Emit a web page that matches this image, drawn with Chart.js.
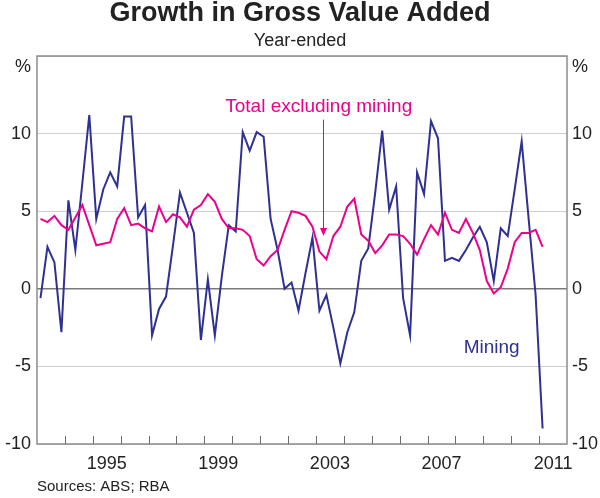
<!DOCTYPE html>
<html>
<head>
<meta charset="utf-8">
<script src="https://cdn.jsdelivr.net/npm/chart.js@4.4.1/dist/chart.umd.min.js"></script>
<style>
  html, body { margin: 0; padding: 0; background: #fff; }
  #wrap { width: 600px; height: 498px; }
</style>
</head>
<body>
<div id="wrap"><canvas id="gvaChart"></canvas></div>
<script>
// Year-ended growth, quarterly, March quarter 1993 to March quarter 2011
const START_YEAR = 1993;

const mining = [
  -0.6, 2.7, 1.7, -2.8, 5.7, 2.5, 6.8, 11.2, 4.5, 6.4, 7.5, 6.6,
  11.1, 11.1, 4.6, 5.4, -3.0, -1.3, -0.5, 2.8, 6.2, 4.9, 3.6, -3.3,
  0.6, -3.0, 0.8, 4.1, 3.7, 10.1, 8.9, 10.1, 9.8, 4.5, 2.5, 0.0,
  0.4, -1.4, 1.0, 3.3, -1.4, -0.4, -2.5, -4.8, -2.8, -1.5, 1.8, 2.6,
  6.2, 10.2, 5.1, 6.6, -0.6, -3.0, 7.5, 6.1, 10.8, 9.7, 1.8, 2.0,
  1.8, 2.5, 3.3, 4.0, 3.0, 0.5, 3.9, 3.4, 6.4, 9.5, 4.5, -0.4,
  -9.0
];

const totalExMining = [
  4.5, 4.3, 4.7, 4.1, 3.8, 4.6, 5.4, 4.1, 2.8, 2.9, 3.0, 4.5,
  5.2, 4.1, 4.2, 3.9, 3.7, 5.3, 4.3, 4.8, 4.6, 4.0, 5.1, 5.4,
  6.1, 5.6, 4.5, 3.9, 3.9, 3.8, 3.4, 1.9, 1.5, 2.1, 2.5, 3.8,
  5.0, 4.9, 4.7, 4.0, 2.4, 1.9, 3.4, 4.0, 5.3, 5.8, 3.5, 3.1,
  2.3, 2.8, 3.5, 3.5, 3.4, 2.9, 2.2, 3.2, 4.1, 3.5, 4.9, 3.8,
  3.6, 4.5, 3.6, 2.5, 0.5, -0.3, 0.1, 1.3, 3.0, 3.6, 3.6, 3.8,
  2.7
];

const yearLabels = [1995, 1999, 2003, 2007, 2011];
const yTicks = [-10, -5, 0, 5, 10, 15];

const COLORS = {
  mining: '#2E3192',
  total:  '#EC008C',
  frame:  '#8C8C8C',
  grid:   '#CDCDD4',
  zero:   '#7A7A7A',
  text:   '#222222',
};

const FONT = "'Liberation Sans', Arial, sans-serif";

// quarter positions (mid-quarter, in decimal years)
const quarters = mining.map((_, i) => START_YEAR + 0.125 + i * 0.25);

const decorPlugin = {
  id: 'decor',
  afterDraw(chart) {
    const { ctx: c, chartArea, scales } = chart;
    const { left, right, top, bottom } = chartArea;
    const x = scales.x, y = scales.y;
    c.save();

    // frame
    c.strokeStyle = COLORS.frame;
    c.lineWidth = 1.5;
    c.strokeRect(left, top, right - left, bottom - top);

    // year tick marks pointing up from the bottom axis
    c.lineWidth = 1;
    c.strokeStyle = '#6E6E6E';
    c.beginPath();
    for (let yr = START_YEAR + 1; yr < 2012; yr++) {
      const px = Math.round(x.getPixelForValue(yr)) + 0.5;
      c.moveTo(px, bottom);
      c.lineTo(px, bottom - 8);
    }
    c.stroke();

    // % unit labels
    c.fillStyle = COLORS.text;
    c.font = `18px ${FONT}`;
    c.textBaseline = 'middle';
    c.textAlign = 'right';
    c.fillText('%', left - 6, top + 11);
    c.textAlign = 'left';
    c.fillText('%', right + 5, top + 11);

    // title + subtitle
    c.textAlign = 'center';
    c.font = `bold 27px ${FONT}`;
    c.fillText('Growth in Gross Value Added', chart.width / 2, 14);
    c.font = `18px ${FONT}`;
    c.fillText('Year-ended', chart.width / 2, 41);

    // series labels
    c.font = `19px ${FONT}`;
    c.fillStyle = COLORS.total;
    c.fillText('Total excluding mining', x.getPixelForValue(2003.1), y.getPixelForValue(11.7));
    c.fillStyle = COLORS.mining;
    c.fillText('Mining', x.getPixelForValue(2009.3), y.getPixelForValue(-3.8));

    // arrow pointing at the total line
    const ax = Math.round(x.getPixelForValue(2003.25)) + 0.5;
    const ay0 = y.getPixelForValue(10.9);
    const ay1 = y.getPixelForValue(3.4);
    c.strokeStyle = COLORS.total;
    c.fillStyle = COLORS.total;
    c.lineWidth = 1;
    c.beginPath();
    c.moveTo(ax, ay0);
    c.lineTo(ax, ay1 - 6);
    c.stroke();
    c.beginPath();
    c.moveTo(ax - 3.5, ay1 - 8);
    c.lineTo(ax + 3.5, ay1 - 8);
    c.lineTo(ax, ay1);
    c.closePath();
    c.fill();

    // sources
    c.fillStyle = COLORS.text;
    c.textAlign = 'left';
    c.font = `15px ${FONT}`;
    c.fillText('Sources: ABS; RBA', left, 487);

    c.restore();
  }
};

const ctx = document.getElementById('gvaChart');

new Chart(ctx, {
  type: 'line',
  data: {
    datasets: [
      {
        label: 'Total excluding mining',
        data: quarters.map((q, i) => ({ x: q, y: totalExMining[i] })),
        borderColor: COLORS.total,
        borderWidth: 2,
        pointRadius: 0,
        tension: 0,
      },
      {
        label: 'Mining',
        data: quarters.map((q, i) => ({ x: q, y: mining[i] })),
        borderColor: COLORS.mining,
        borderWidth: 2,
        pointRadius: 0,
        tension: 0,
      },
    ]
  },
  plugins: [decorPlugin],
  options: {
    responsive: true,
    maintainAspectRatio: false,
    animation: false,
    layout: { padding: { top: 56, left: 0, right: 0, bottom: 0 } },
    plugins: {
      legend: { display: false },
      tooltip: { enabled: false },
    },
    scales: {
      x: {
        type: 'linear',
        min: START_YEAR,
        max: 2012,
        afterBuildTicks: axis => { axis.ticks = yearLabels.map(v => ({ value: v + 0.5 })); },
        afterFit: axis => { axis.height = 54; },
        grid: { display: false, drawTicks: false },
        border: { display: false },
        ticks: {
          callback: v => String(Math.floor(v)),
          color: COLORS.text,
          font: { family: FONT, size: 18 },
          maxRotation: 0,
          autoSkip: false,
          padding: 9,
        }
      },
      y: {
        position: 'left',
        min: -10,
        max: 15,
        afterBuildTicks: axis => { axis.ticks = yTicks.map(v => ({ value: v })); },
        afterFit: axis => { axis.width = 37; },
        grid: {
          drawTicks: false,
          color: c => c.tick.value === 0 ? COLORS.zero : COLORS.grid,
          lineWidth: c => c.tick.value === 0 ? 1.5 : 1,
        },
        border: { display: false },
        ticks: {
          callback: v => v === 15 ? '' : String(v),
          color: COLORS.text,
          font: { family: FONT, size: 18 },
          padding: 6,
        }
      },
      y2: {
        position: 'right',
        display: true,
        min: -10,
        max: 15,
        afterBuildTicks: axis => { axis.ticks = yTicks.map(v => ({ value: v })); },
        afterFit: axis => { axis.width = 33; },
        grid: { display: false, drawTicks: false },
        border: { display: false },
        ticks: {
          callback: v => v === 15 ? '' : String(v),
          color: COLORS.text,
          font: { family: FONT, size: 18 },
          padding: 5,
        }
      }
    }
  }
});
</script>
</body>
</html>
